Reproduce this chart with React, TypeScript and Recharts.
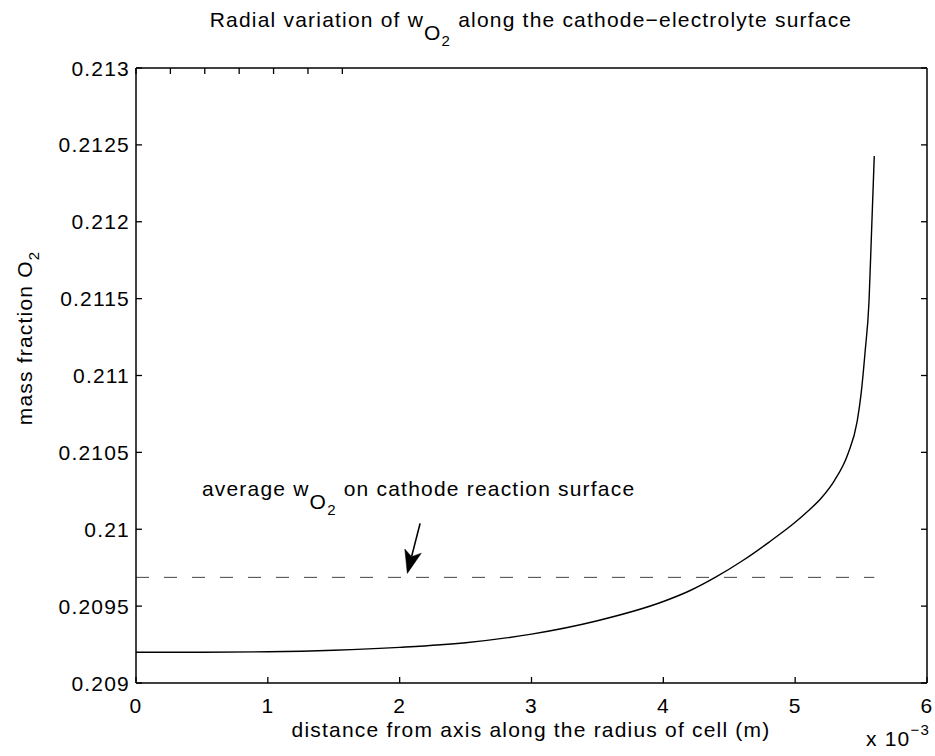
import React from 'react';
import { LineChart, Line, XAxis, YAxis, ReferenceLine, ReferenceDot } from 'recharts';

// distance from axis (x 10^-3 m)
const radius = [0, 0.5, 1.0, 1.5, 2.0, 2.5, 3.0, 3.5, 4.0, 4.2, 4.4, 4.6, 4.8, 5.0, 5.1, 5.2, 5.3, 5.4, 5.47, 5.5, 5.53, 5.56, 5.58, 5.6];
// mass fraction O2 along the cathode-electrolyte surface
const massFraction = [0.2092, 0.2092, 0.209203, 0.209213, 0.209232, 0.209262, 0.209318, 0.209405, 0.20953, 0.2096, 0.20969, 0.209795, 0.209915, 0.210045, 0.21012, 0.210205, 0.21032, 0.21049, 0.2107, 0.21088, 0.21115, 0.21148, 0.21195, 0.212427];

const averageValue = 0.209687;
const averageRange = [0, 5.6];

const xTicks = [0, 1, 2, 3, 4, 5, 6];
const yTicks = [0.209, 0.2095, 0.21, 0.2105, 0.211, 0.2115, 0.212, 0.2125, 0.213];
const yTickLabels = ['0.209', '0.2095', '0.21', '0.2105', '0.211', '0.2115', '0.212', '0.2125', '0.213'];

// annotation arrow (start -> tip) and text anchor, in data units
const arrowStart = { x: 2.155, y: 0.210038 };
const arrowTip = { x: 2.058, y: 0.209713 };
const annotationAnchor = { x: 0.5, y: 0.210216 };

const curveData = radius.map((r, i) => ({ x: r, y: massFraction[i] }));
const averageData = averageRange.map((r) => ({ x: r, y: averageValue }));

const FONT = '"Liberation Sans", Arial, Helvetica, sans-serif';
const LS = 1.2;
const FS = 21;
const TICK_LEN = 6;

const LeftTick = (props: any) => {
  const { x, y, index } = props;
  return (
    <g>
      <line x1={x + 6} y1={y} x2={x + 6 + TICK_LEN} y2={y} stroke="#000" strokeWidth={1.3} />
      <text x={x} y={y} dy="0.36em" textAnchor="end" fontSize={FS} fontFamily={FONT} fill="#000" style={{ letterSpacing: LS }}>
        {yTickLabels[index]}
      </text>
    </g>
  );
};

const BottomTick = (props: any) => {
  const { x, y, payload } = props;
  return (
    <g>
      <line x1={x} y1={y - 15} x2={x} y2={y - 15 - TICK_LEN} stroke="#000" strokeWidth={1.3} />
      <text x={x} y={y} dy="0.72em" textAnchor="middle" fontSize={FS} fontFamily={FONT} fill="#000" style={{ letterSpacing: LS }}>
        {String(payload.value)}
      </text>
    </g>
  );
};

const TopTick = (props: any) => {
  const { x, y } = props;
  return <line x1={x} y1={y} x2={x} y2={y + TICK_LEN} stroke="#000" strokeWidth={1.3} />;
};

const RightTick = (props: any) => {
  const { x, y } = props;
  return <line x1={x} y1={y} x2={x - TICK_LEN} y2={y} stroke="#000" strokeWidth={1.3} />;
};

const ArrowShape = (props: any) => {
  const { x1, y1, x2, y2 } = props;
  if ([x1, y1, x2, y2].some((v) => typeof v !== 'number' || isNaN(v))) return null;
  const dx = x2 - x1;
  const dy = y2 - y1;
  const len = Math.sqrt(dx * dx + dy * dy) || 1;
  const ux = dx / len;
  const uy = dy / len;
  const headLen = 23;
  const half = 8.5;
  const bx = x2 - ux * headLen;
  const by = y2 - uy * headLen;
  const nx = -uy;
  const ny = ux;
  const notchX = x2 - ux * headLen * 0.75;
  const notchY = y2 - uy * headLen * 0.75;
  const pts = `${x2},${y2} ${bx + nx * half},${by + ny * half} ${notchX},${notchY} ${bx - nx * half},${by - ny * half}`;
  return (
    <g>
      <line x1={x1} y1={y1} x2={notchX} y2={notchY} stroke="#000" strokeWidth={1.6} />
      <polygon points={pts} fill="#000" stroke="#000" strokeWidth={0.5} />
    </g>
  );
};

const AnnotationLabel = (props: any) => {
  const vb = props.viewBox || {};
  const x = (vb.x ?? 0) + (vb.width ?? 0) / 2;
  const y = (vb.y ?? 0) + (vb.height ?? 0) / 2;
  return (
    <text x={x} y={y} fontSize={FS} fontFamily={FONT} fill="#000" style={{ letterSpacing: LS }}>
      <tspan>average w</tspan>
      <tspan dy={13}>O</tspan>
      <tspan fontSize={15} dy={6}>2</tspan>
      <tspan dy={-19}>{'\u00A0on cathode reaction surface'}</tspan>
    </text>
  );
};

const axisLineStyle = { stroke: '#000', strokeWidth: 1.5 };

export default function App() {
  return (
    <div style={{ position: 'absolute', left: 0, top: 0, width: 935, height: 756, background: '#fff', fontFamily: FONT }}>
      <LineChart
        width={935}
        height={756}
        data={curveData}
        margin={{ top: 67, right: 7, bottom: 0, left: 0 }}
      >
        <XAxis
          dataKey="x"
          type="number"
          domain={[0, 6]}
          ticks={xTicks}
          allowDataOverflow
          height={73}
          tickSize={0}
          tickMargin={15}
          tickLine={false}
          tick={<BottomTick />}
          axisLine={axisLineStyle}
        />
        <XAxis
          xAxisId="top"
          orientation="top"
          type="number"
          domain={[0, 6]}
          ticks={xTicks}
          allowDataOverflow
          height={1}
          tickSize={0}
          tickMargin={0}
          tickLine={false}
          tick={<TopTick />}
          axisLine={axisLineStyle}
        />
        <YAxis
          type="number"
          domain={[0.209, 0.213]}
          ticks={yTicks}
          allowDataOverflow
          width={136}
          tickSize={0}
          tickMargin={6}
          tickLine={false}
          tick={<LeftTick />}
          axisLine={axisLineStyle}
        />
        <YAxis
          yAxisId="right"
          orientation="right"
          type="number"
          domain={[0.209, 0.213]}
          ticks={yTicks}
          allowDataOverflow
          width={1}
          tickSize={0}
          tickMargin={0}
          tickLine={false}
          tick={<RightTick />}
          axisLine={axisLineStyle}
        />
        <Line
          data={averageData}
          dataKey="y"
          type="linear"
          stroke="#444"
          strokeWidth={1}
          strokeDasharray="13 15"
          dot={false}
          isAnimationActive={false}
        />
        <Line
          dataKey="y"
          type="monotone"
          stroke="#000"
          strokeWidth={1.4}
          dot={false}
          isAnimationActive={false}
        />
        <ReferenceLine
          segment={[arrowStart, arrowTip]}
          stroke="#000"
          shape={ArrowShape}
          ifOverflow="visible"
        />
        <ReferenceDot
          x={annotationAnchor.x}
          y={annotationAnchor.y}
          r={0}
          fill="none"
          stroke="none"
          ifOverflow="visible"
          label={<AnnotationLabel />}
        />
      </LineChart>
      <svg
        width={935}
        height={756}
        style={{ position: 'absolute', left: 0, top: 0, pointerEvents: 'none' }}
      >
        <text x={531} y={26.5} textAnchor="middle" fontSize={FS} fontFamily={FONT} fill="#000" style={{ letterSpacing: LS }}>
          <tspan>Radial variation of w</tspan>
          <tspan dy={13}>O</tspan>
          <tspan fontSize={15} dy={6}>2</tspan>
          <tspan dy={-19}>{'\u00A0along the cathode\u2212electrolyte surface'}</tspan>
        </text>
        <text x={531} y={737} textAnchor="middle" fontSize={FS} fontFamily={FONT} fill="#000" style={{ letterSpacing: LS }}>
          distance from axis along the radius of cell (m)
        </text>
        <text x={866} y={746} fontSize={FS} fontFamily={FONT} fill="#000" style={{ letterSpacing: LS }}>
          <tspan>x 10</tspan>
          <tspan fontSize={15} dy={-11}>{'\u22123'}</tspan>
        </text>
        <text
          transform="translate(32, 338) rotate(-90)"
          x={0}
          y={0}
          textAnchor="middle"
          fontSize={FS}
          fontFamily={FONT}
          fill="#000"
          style={{ letterSpacing: LS }}
        >
          <tspan>mass fraction O</tspan>
          <tspan fontSize={15} dy={7}>2</tspan>
        </text>
      </svg>
    </div>
  );
}
